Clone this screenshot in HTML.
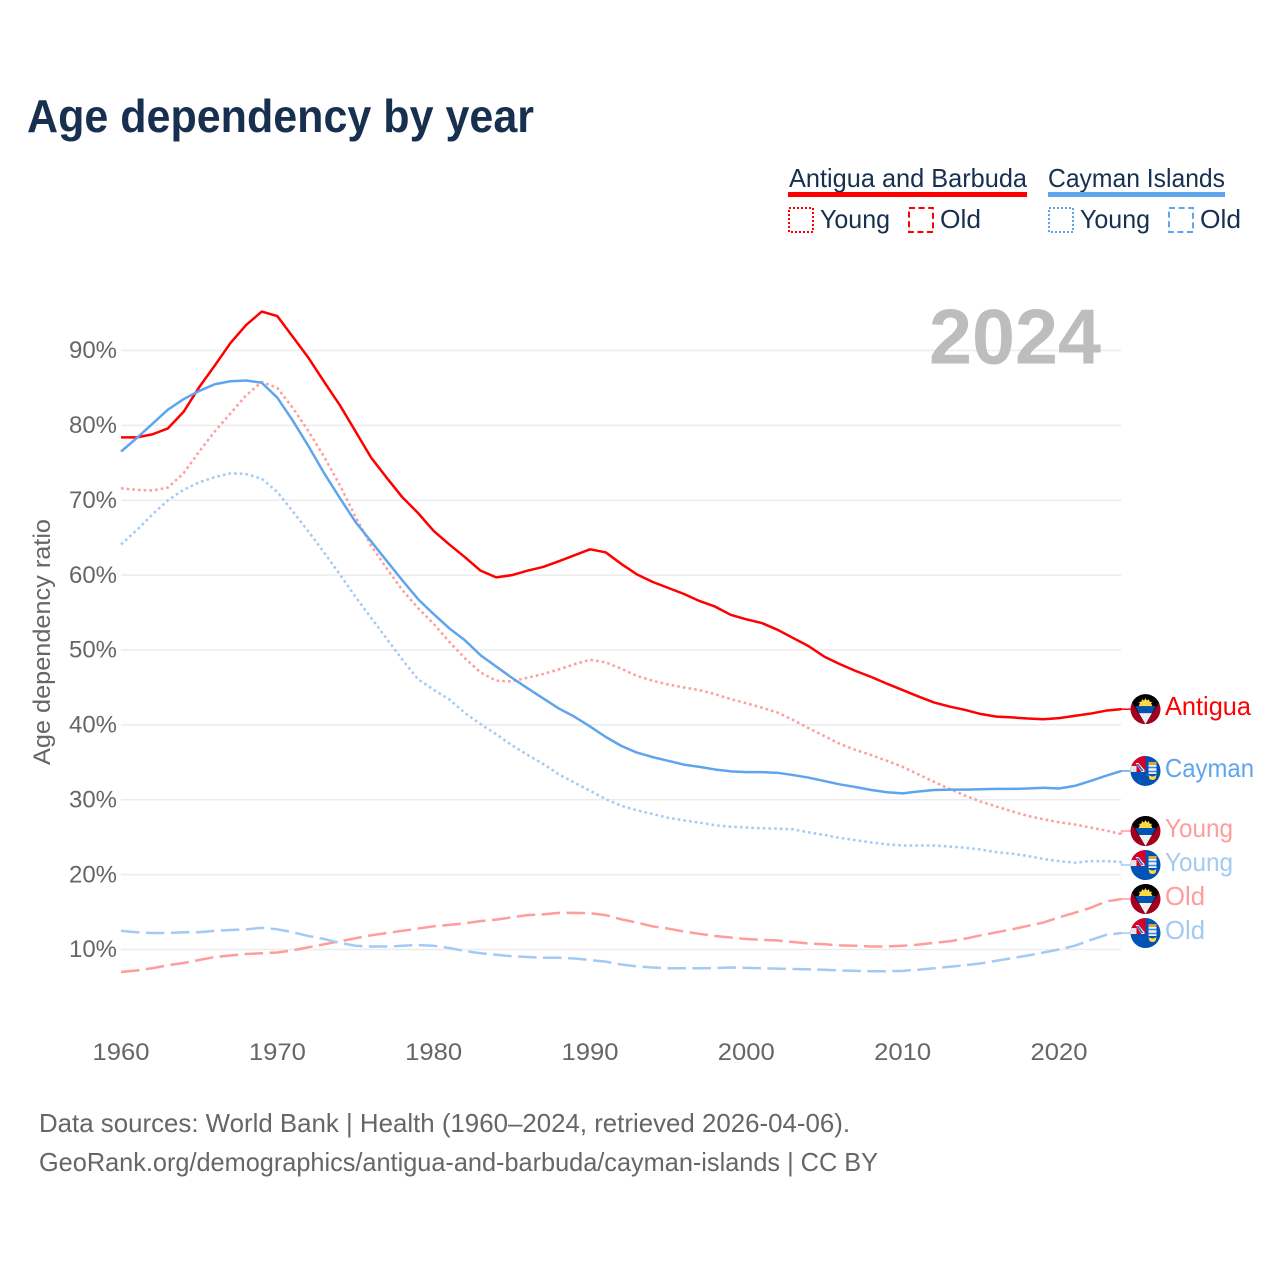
<!DOCTYPE html>
<html lang="en">
<head>
<meta charset="utf-8">
<title>Age dependency by year</title>
<style>
html,body{margin:0;padding:0;background:#fff;}
svg{display:block;font-family:"Liberation Sans",sans-serif;}
</style>
</head>
<body>
<svg id="chart" xmlns="http://www.w3.org/2000/svg" width="1280" height="1280" viewBox="0 0 1280 1280">
  <defs>
    <clipPath id="flag-clip"><circle cx="0" cy="0" r="15"></circle></clipPath>
    <g id="flag-antigua" clip-path="url(#flag-clip)">
      <rect x="-15" y="-15" width="30" height="30" fill="#a2001d"></rect>
      <polygon points="-15,-15 15,-15 15,-9 0,15 -15,-9" fill="#000"></polygon>
      <polygon points="-10.5,-3 10.5,-3 6.5,4 -6.5,4" fill="#0052b4"></polygon>
      <polygon points="-6.5,4 6.5,4 0,15" fill="#f0f0f0"></polygon>
      <polygon points="-7,-3 -5.5,-6 -7,-7 -4,-7.5 -3.5,-10 -1.5,-8.5 0,-11 1.5,-8.5 3.5,-10 4,-7.5 7,-7 5.5,-6 7,-3" fill="#ffda44"></polygon>
    </g>
    <g id="flag-cayman" clip-path="url(#flag-clip)">
      <rect x="-15" y="-15" width="30" height="30" fill="#0052b4"></rect>
      <rect x="-15" y="-15" width="15" height="16" fill="#d80027"></rect>
      <polygon points="-10,-8 -7,-8 -1,-1 -1,1 -4,1" fill="#f0f0f0"></polygon>
      <polygon points="-9,-7 -7,-7 -2,0 -4,0" fill="#2f68c4"></polygon>
      <rect x="-15" y="-5" width="6" height="6" fill="#e9e4ea"></rect>
      <rect x="3" y="-9" width="8" height="3" fill="#d9a93a"></rect>
      <path d="M3,-6 H11 V3 H3 Z" fill="#f0f0f0"></path>
      <path d="M3,-3.5 H11 M3,0.5 H11" stroke="#338af3" stroke-width="1.5"></path>
      <path d="M3,4 Q7,7 11,4 L10,8 Q7,10 4,8 Z" fill="#ffda44"></path>
    </g>
  </defs>

  <text x="27" y="132" font-size="46" font-weight="700" fill="#18304f" textLength="507" lengthAdjust="spacingAndGlyphs">Age dependency by year</text>

  <g>
    <text x="789" y="187" font-size="26" fill="#18304f" textLength="238" lengthAdjust="spacingAndGlyphs">Antigua and Barbuda</text>
    <rect x="788" y="192" width="239" height="5" fill="#ff0000"></rect>
    <text x="1048" y="187" font-size="26" fill="#18304f" textLength="177" lengthAdjust="spacingAndGlyphs">Cayman Islands</text>
    <rect x="1048" y="192" width="177" height="5" fill="#5fa5ee"></rect>

    <rect x="789" y="208" width="24" height="24" fill="none" stroke="#ff0000" stroke-width="2" stroke-dasharray="2 2"></rect>
    <text x="820" y="228" font-size="26" fill="#18304f" textLength="70" lengthAdjust="spacingAndGlyphs">Young</text>
    <rect x="909" y="208" width="24" height="24" fill="none" stroke="#ff0000" stroke-width="2" stroke-dasharray="6 3.6"></rect>
    <text x="940" y="228" font-size="26" fill="#18304f" textLength="41" lengthAdjust="spacingAndGlyphs">Old</text>

    <rect x="1049" y="208" width="24" height="24" fill="none" stroke="#5fa5ee" stroke-width="2" stroke-dasharray="2 2"></rect>
    <text x="1080" y="228" font-size="26" fill="#18304f" textLength="70" lengthAdjust="spacingAndGlyphs">Young</text>
    <rect x="1169" y="208" width="24" height="24" fill="none" stroke="#5fa5ee" stroke-width="2" stroke-dasharray="6 3.6"></rect>
    <text x="1200" y="228" font-size="26" fill="#18304f" textLength="41" lengthAdjust="spacingAndGlyphs">Old</text>
  </g>

  <g id="grid"></g>
  <g id="y-ticks"></g>
  <g id="x-ticks"></g>

  <text transform="translate(50,642) rotate(-90)" text-anchor="middle" font-size="24.5" fill="#666666" textLength="246" lengthAdjust="spacingAndGlyphs">Age dependency ratio</text>

  <text x="929" y="363.5" font-size="78" font-weight="700" fill="#bdbdbd" textLength="172" lengthAdjust="spacingAndGlyphs">2024</text>

  <g id="series"></g>
  <g id="end-labels"></g>

  <text x="39" y="1132" font-size="26" fill="#666666" textLength="811" lengthAdjust="spacingAndGlyphs">Data sources: World Bank | Health (1960–2024, retrieved 2026-04-06).</text>
  <text x="39" y="1171" font-size="26" fill="#666666" textLength="839" lengthAdjust="spacingAndGlyphs">GeoRank.org/demographics/antigua-and-barbuda/cayman-islands | CC BY</text>
</svg>

<script>
const startYear = 1960;
const yTickValues = [10, 20, 30, 40, 50, 60, 70, 80, 90];
const xTickValues = [1960, 1970, 1980, 1990, 2000, 2010, 2020];

const antiguaTotal = [78.4,78.4,78.8,79.6,81.8,85.1,88,91,93.4,95.2,94.6,91.8,89,85.8,82.7,79.2,75.7,73,70.4,68.3,65.9,64.1,62.4,60.6,59.7,60,60.6,61.1,61.85,62.65,63.45,63.05,61.5,60.1,59.1,58.3,57.5,56.55,55.8,54.7,54.1,53.6,52.7,51.6,50.5,49.1,48.1,47.2,46.4,45.5,44.65,43.8,43,42.45,42,41.45,41.1,41,40.85,40.75,40.9,41.2,41.5,41.9,42.1];
const caymanTotal = [76.5,78.3,80.2,82.1,83.5,84.6,85.5,85.9,86,85.7,83.7,80.6,77.2,73.6,70.3,67.1,64.5,61.9,59.3,56.8,54.8,52.9,51.3,49.3,47.8,46.3,44.9,43.55,42.2,41.1,39.8,38.4,37.2,36.3,35.7,35.2,34.7,34.4,34.05,33.8,33.7,33.7,33.6,33.3,32.95,32.5,32.05,31.7,31.3,31,30.85,31.1,31.3,31.35,31.35,31.4,31.45,31.45,31.5,31.6,31.5,31.85,32.5,33.2,33.85];
const antiguaYoung = [71.6,71.4,71.3,71.7,73.6,76.5,79.2,81.6,84,85.8,85,82.3,79.2,75.8,72,67.8,63.9,60.9,58,55.6,53.5,51.1,48.9,47,45.9,45.8,46.3,46.8,47.4,48.1,48.7,48.35,47.5,46.55,45.9,45.4,45,44.65,44.1,43.45,42.9,42.3,41.65,40.65,39.55,38.5,37.45,36.65,35.97,35.2,34.4,33.4,32.4,31.45,30.55,29.75,29.1,28.45,27.85,27.4,27,26.7,26.3,25.9,25.4];
const caymanYoung = [64.1,66,68.1,70,71.4,72.4,73.1,73.6,73.5,72.9,71.1,68.5,65.8,63,60.1,57.1,54.3,51.5,48.7,46.1,44.7,43.4,41.6,40.1,38.75,37.3,36,34.8,33.4,32.3,31.2,30.1,29.2,28.6,28.1,27.6,27.25,26.95,26.6,26.4,26.3,26.2,26.15,26.05,25.65,25.3,24.9,24.6,24.3,24.05,23.9,23.9,23.9,23.75,23.6,23.35,23,22.8,22.5,22.1,21.8,21.6,21.8,21.8,21.7];
const antiguaOld = [7,7.2,7.5,7.9,8.2,8.6,9,9.2,9.4,9.5,9.6,9.9,10.3,10.7,11.1,11.5,11.9,12.2,12.5,12.8,13.1,13.3,13.5,13.8,14,14.3,14.6,14.7,14.9,14.9,14.85,14.6,14.03,13.6,13.1,12.8,12.4,12.1,11.8,11.6,11.4,11.3,11.2,11,10.8,10.7,10.56,10.5,10.4,10.4,10.5,10.65,10.9,11.1,11.45,11.9,12.3,12.7,13.15,13.6,14.3,14.9,15.55,16.4,16.75];
const caymanOld = [12.5,12.3,12.2,12.2,12.3,12.3,12.5,12.6,12.7,12.9,12.7,12.3,11.8,11.4,10.9,10.5,10.4,10.4,10.5,10.6,10.5,10.2,9.8,9.5,9.3,9.1,9,8.9,8.9,8.8,8.6,8.38,8,7.75,7.6,7.5,7.5,7.5,7.53,7.6,7.55,7.5,7.45,7.4,7.35,7.3,7.2,7.15,7.1,7.1,7.15,7.3,7.5,7.7,7.9,8.15,8.5,8.85,9.2,9.6,10,10.5,11.25,11.95,12.2];

const SVGNS = 'http://www.w3.org/2000/svg';
function xScale(year) { return 121 + (year - 1960) * 15.633; }
function yScale(v) { return 1024.4 - v * 7.4875; }
function make(tag, attrs, parent) {
  const el = document.createElementNS(SVGNS, tag);
  for (const k in attrs) el.setAttribute(k, attrs[k]);
  parent.appendChild(el);
  return el;
}

const gridLayer = document.getElementById('grid');
const yLayer = document.getElementById('y-ticks');
yTickValues.forEach(function (v) {
  const line = make('line', { x1: 121, x2: 1121, y1: yScale(v), y2: yScale(v), stroke: '#ececec', 'stroke-width': 1.5 }, gridLayer);
  
  
  const t = make('text', { x: 69, y: yScale(v) + 7.7, 'font-size': 24.5, fill: '#666666', textLength: 48, lengthAdjust: 'spacingAndGlyphs' }, yLayer);
  
  
  t.textContent = v + '%';
});

const xLayer = document.getElementById('x-ticks');
xTickValues.forEach(function (year) {
  const t = make('text', { x: xScale(year) - 28.5, y: 1060, 'font-size': 24.5, fill: '#666666', textLength: 57, lengthAdjust: 'spacingAndGlyphs' }, xLayer);
  
  
  t.textContent = year;
});

const seriesList = [
  { key: 'antigua-old', values: antiguaOld, color: '#ff9c9c', dash: '18.5 6.5', flag: 'flag-antigua', label: 'Old', labelWidth: 40 },
  { key: 'cayman-old', values: caymanOld, color: '#a3caf3', dash: '18.5 6.5', flag: 'flag-cayman', label: 'Old', labelWidth: 40 },
  { key: 'antigua-young', values: antiguaYoung, color: '#ff9c9c', dash: '2.6 3.1', flag: 'flag-antigua', label: 'Young', labelWidth: 68 },
  { key: 'cayman-young', values: caymanYoung, color: '#a3caf3', dash: '2.6 3.1', flag: 'flag-cayman', label: 'Young', labelWidth: 68 },
  { key: 'antigua-total', values: antiguaTotal, color: '#ff0000', dash: '', flag: 'flag-antigua', label: 'Antigua', labelWidth: 86 },
  { key: 'cayman-total', values: caymanTotal, color: '#5fa5ee', dash: '', flag: 'flag-cayman', label: 'Cayman', labelWidth: 89 }
];

/* Dodge end labels: merge overlapping labels into clusters centred on their mean. */
function dodge(items, gap) {
  const sorted = items.slice().sort(function (a, b) { return a.y0 - b.y0; });
  let clusters = sorted.map(function (it) { return { members: [it], mean: it.y0 }; });
  let merged = true;
  while (merged) {
    merged = false;
    for (let i = 0; i < clusters.length - 1; i++) {
      const a = clusters[i], b = clusters[i + 1];
      const aEnd = a.mean + (a.members.length - 1) * gap / 2;
      const bStart = b.mean - (b.members.length - 1) * gap / 2;
      if (bStart - aEnd < gap) {
        const members = a.members.concat(b.members);
        const mean = members.reduce(function (s, m) { return s + m.y0; }, 0) / members.length;
        clusters.splice(i, 2, { members: members, mean: mean });
        merged = true;
        break;
      }
    }
  }
  clusters.forEach(function (c) {
    c.members.forEach(function (m, i) {
      m.yLabel = c.mean + (i - (c.members.length - 1) / 2) * gap;
    });
  });
}

seriesList.forEach(function (s) { s.y0 = yScale(s.values[s.values.length - 1]); });
dodge(seriesList, 34);

const seriesLayer = document.getElementById('series');
const labelLayer = document.getElementById('end-labels');
seriesList.forEach(function (s) {
  const pts = s.values.map(function (v, i) { return xScale(startYear + i).toFixed(2) + ',' + yScale(v).toFixed(2); });
  const line = make('polyline', { points: pts.join(' '), fill: 'none', stroke: s.color, 'stroke-width': 2.5, 'stroke-linejoin': 'round' }, seriesLayer);
  if (s.dash) line.setAttribute('stroke-dasharray', s.dash);
  
  
  const endX = xScale(startYear + s.values.length - 1).toFixed(2);
  const leader = make('polyline', { points: endX + ',' + s.y0.toFixed(2) + ' ' + endX + ',' + s.yLabel.toFixed(2) + ' 1132,' + s.yLabel.toFixed(2), fill: 'none', stroke: s.color, 'stroke-width': 1.5 }, seriesLayer);
  
  
});
seriesList.forEach(function (s) {
  const flag = make('use', { href: '#' + s.flag, transform: 'translate(1145.5,' + s.yLabel.toFixed(2) + ')' }, labelLayer);
  
  
  const t = make('text', { x: 1165, y: (s.yLabel + 6).toFixed(2), 'font-size': 26, fill: s.color, textLength: s.labelWidth, lengthAdjust: 'spacingAndGlyphs' }, labelLayer);
  
  
  t.textContent = s.label;
});
</script>
</body>
</html>
